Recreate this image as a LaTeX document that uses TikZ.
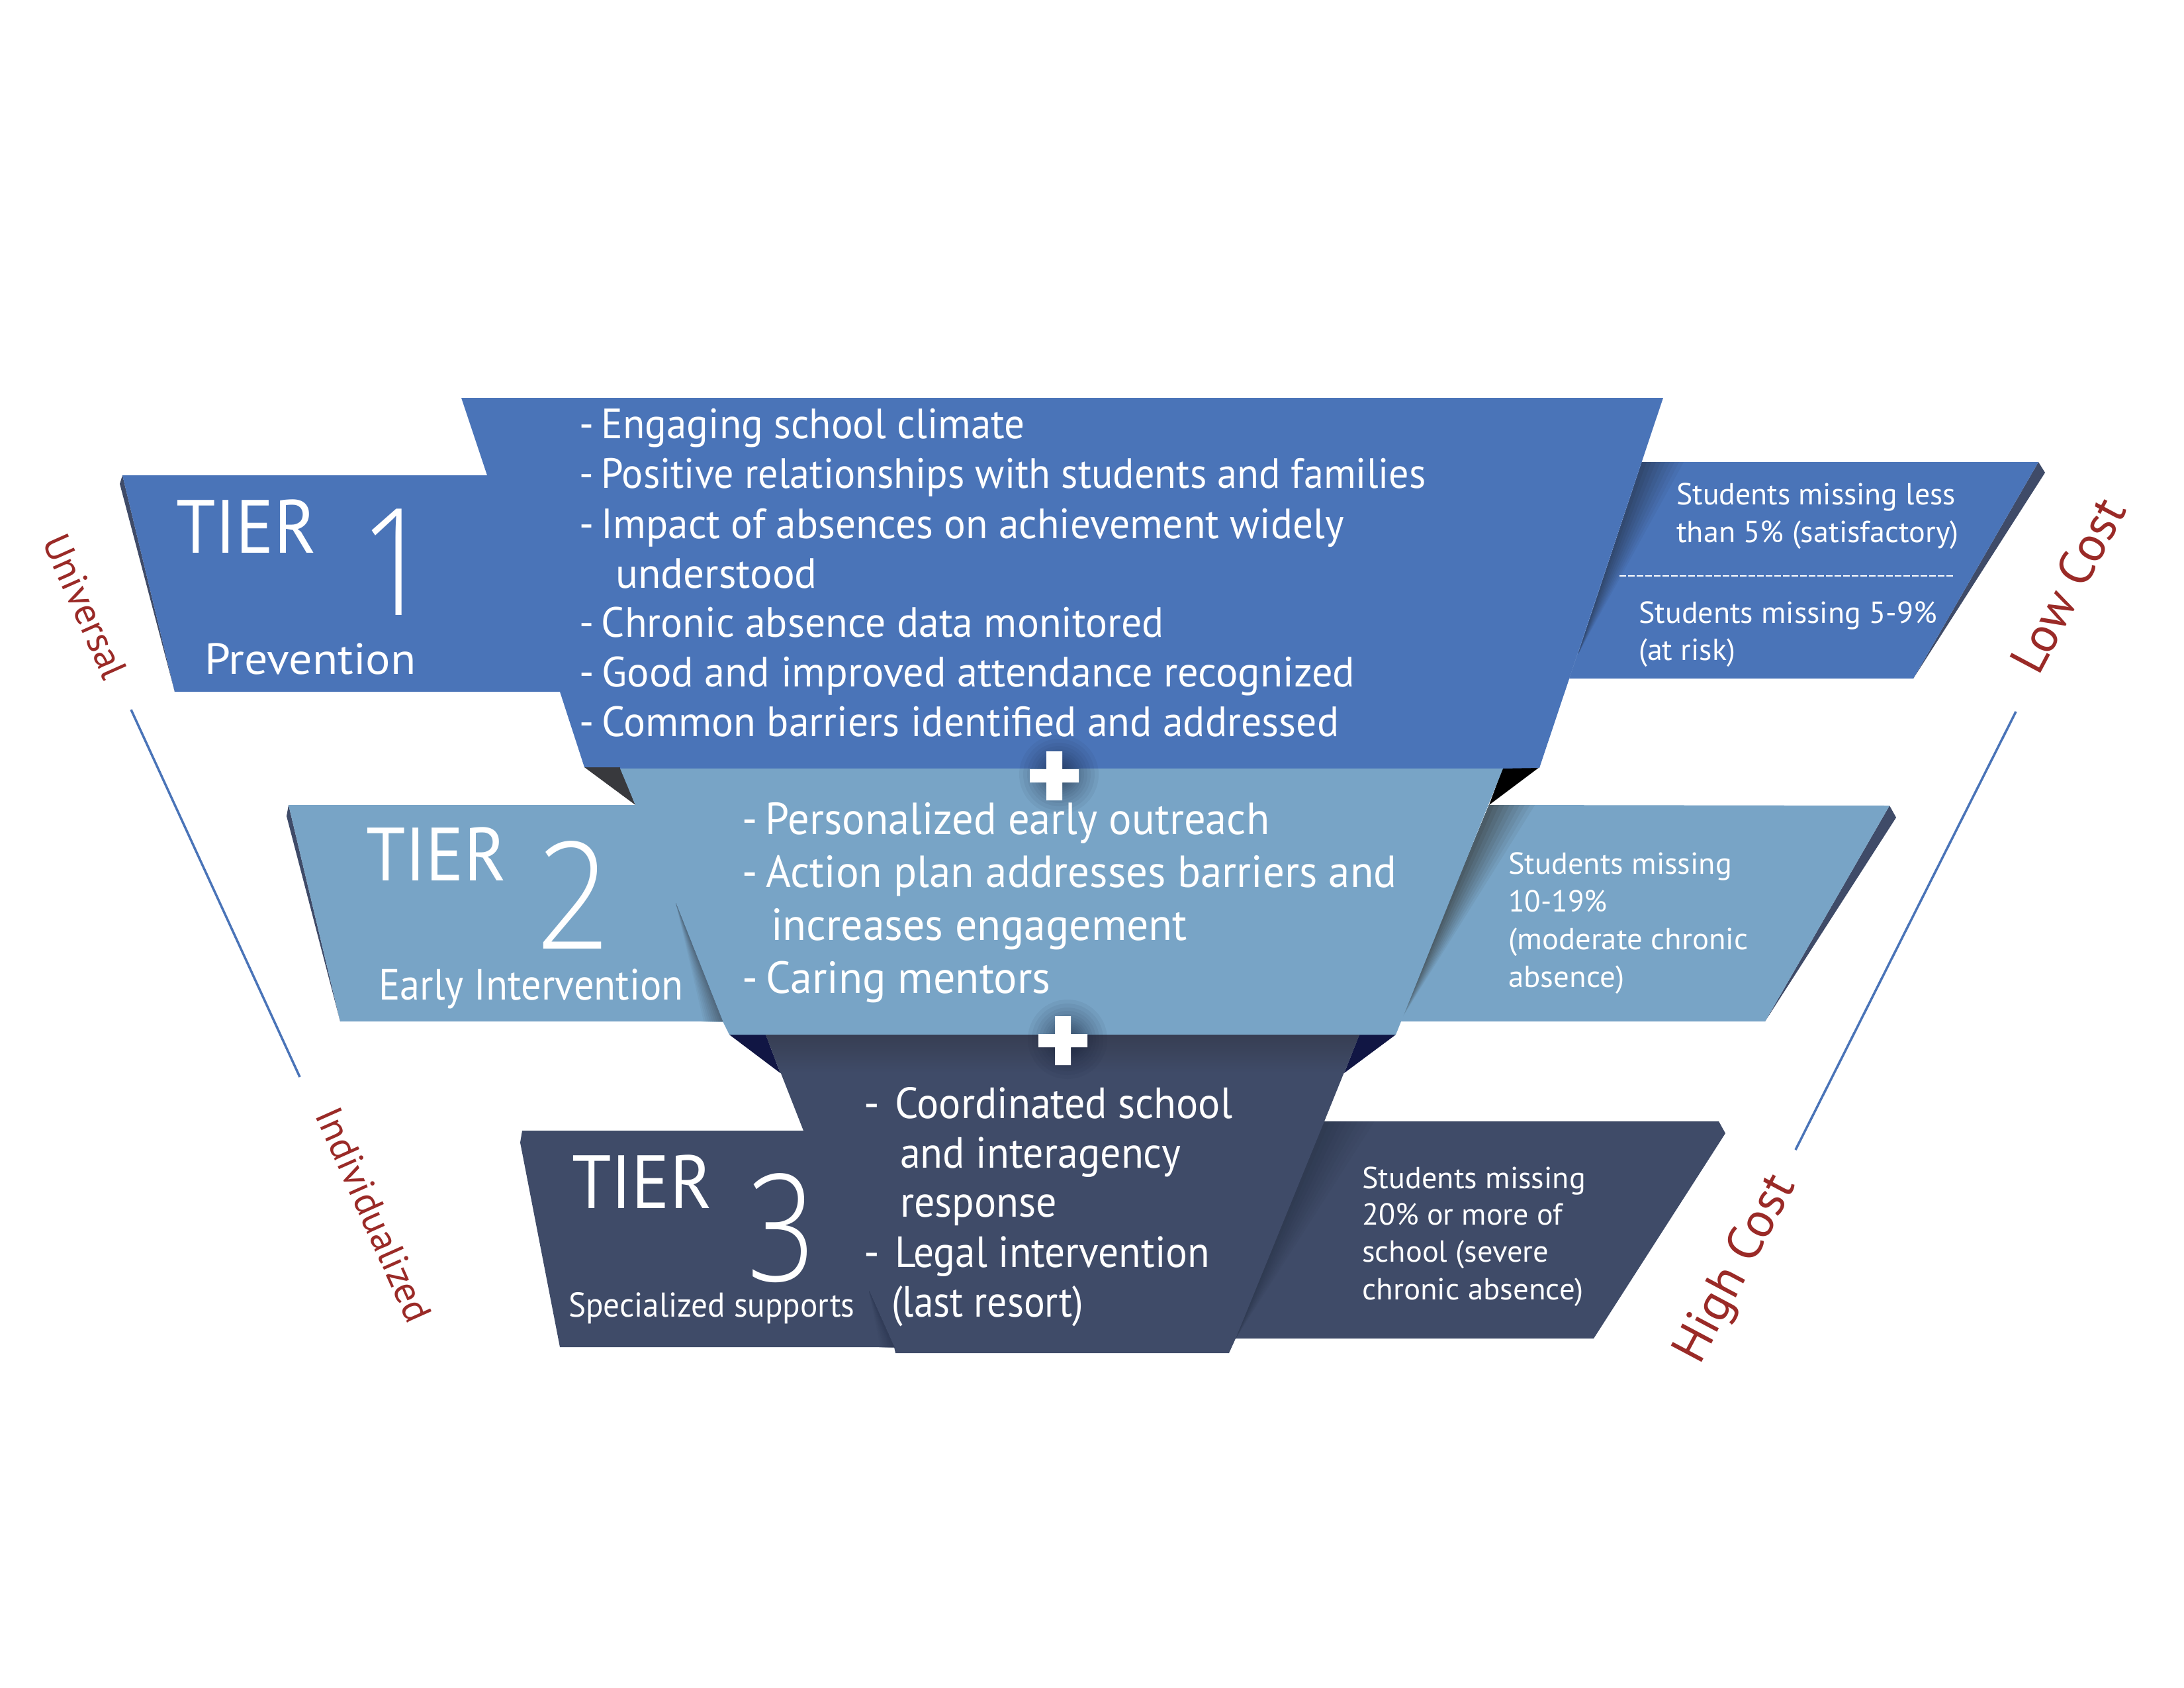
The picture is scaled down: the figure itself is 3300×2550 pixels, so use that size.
\documentclass[tikz,border=0pt]{standalone}
\usepackage{fontspec}
\setmainfont{PT Sans}
\newfontfamily\numfont{Open Sans}[UprightFont=* Light]
\usetikzlibrary{calc}
\definecolor{tone}{HTML}{4A74B8}
\definecolor{ttwo}{HTML}{78A4C6}
\definecolor{tthree}{HTML}{3F4B68}
\definecolor{capred}{HTML}{9A2A27}
\definecolor{navy}{HTML}{111644}
\definecolor{grit}{HTML}{38393D}
\definecolor{shadea}{HTML}{2F4468}
\definecolor{shadeb}{HTML}{46545C}
\definecolor{shadec}{HTML}{4E6478}
\definecolor{shaded}{HTML}{2E3950}
\definecolor{shadee}{HTML}{2F3A55}
\definecolor{plusdark}{HTML}{18223C}
\definecolor{topdark}{HTML}{373E53}
\newcommand\fsz[2]{\fontsize{#1}{#2}\selectfont}
\newcommand\sx[2]{\scalebox{#1}[1]{#2}}
\newcommand\dsh{- \hspace{-5pt}}
\newcommand\fan[5]{\foreach \t in {100,90,...,10}{\fill[#5!\t!#4] (#1) -- (#2) -- ($(#2)!{0.01*\t}!(#3)$) -- cycle;}}
\newcommand\plussign[2]{% cx cy
  \begin{scope}[shift={(#1,#2)}]
  \foreach \r in {60,54,48,43,38,34,30,27,24,21,18,15,12}{\fill[plusdark,opacity=0.06] (7,-2) circle (\r pt);}
  \fill[white] (-12,-37) -- (12,-37) -- (12,-10) -- (37,-10) -- (37,10) -- (12,10) -- (12,37) -- (-12,37) -- (-12,10) -- (-37,10) -- (-37,-10) -- (-12,-10) -- cycle;
  \end{scope}}
\tikzset{
  txt/.style={anchor=base west,inner sep=0pt,text=white},
  bodyone/.style={txt,font=\fsz{64}{72}},
  bodytwo/.style={txt,font=\fsz{68}{76}},
  bodythree/.style={txt,font=\fsz{66}{74}},
  side/.style={txt,font=\fsz{46}{56}},
  tierword/.style={txt,font=\fsz{114}{120}},
  tiernum/.style={anchor=base,inner sep=0pt,text=white,font=\numfont\fsz{225}{240}},
  sublabel/.style={txt,font=\fsz{66}{76}},
  sublabelsm/.style={txt,font=\fsz{52}{60}},
  caption/.style={anchor=center,inner sep=0pt,text=capred,font=\fsz{58}{70}},
  capbig/.style={anchor=center,inner sep=0pt,text=capred,font=\fsz{75}{90}},
  rule/.style={draw=tone,line width=3.5pt},
}
\begin{document}
\begin{tikzpicture}[x=1pt,y=-1pt]
\useasboundingbox (0,0) rectangle (3300,2550);
\fill[white] (0,0) rectangle (3300,2550);

% Tier 1 side box
\fill[tthree] (3080,698) -- (3090,714) -- (2891,1025) -- cycle;
\fill[tone] (2481,698) -- (3080,698) -- (2891,1025) -- (2371,1025) -- cycle;
\fan{2385,987}{2481,698}{2551,698}{shadea}{tone}
% Tier 1 main
\fill[tthree] (185,718) -- (181,731) -- (264,1045) -- cycle;
\fill[grit] (883,1159) -- (937,1159) -- (960,1216) -- cycle;
\fill[black] (2326,1159) -- (2271,1159) -- (2250,1216) -- cycle;
\fill[tone] (697,601) -- (2513,601) -- (2326,1160) -- (2271,1161) -- (937,1161) -- (937,1159) -- (883,1159) -- (846,1045) -- (264,1045) -- (185,718) -- (736,718) -- cycle;

% Tier 2 side box
\fill[tthree] (2855,1217) -- (2865,1235) -- (2667,1543) -- cycle;
\fill[ttwo] (2250,1216) -- (2855,1217) -- (2667,1543) -- (2115,1543) -- cycle;
\fan{2115,1543}{2250,1216}{2327,1216}{shadeb}{ttwo}
% Tier 2 main
\fill[tthree] (436,1216) -- (433,1233) -- (514,1543) -- cycle;
\fill[navy] (1102,1563) -- (1157,1563) -- (1179,1621) -- cycle;
\fill[navy] (2109,1563) -- (2054,1563) -- (2031,1621) -- cycle;
\fill[ttwo] (436,1216) -- (960,1216) -- (937,1161) -- (2271,1161) -- (2109,1563) -- (1102,1563) -- (1092,1543) -- (514,1543) -- cycle;
\fan{1021,1364}{1092,1543}{1060,1543}{shadec}{ttwo}

% Tier 3 side box
\fill[tthree] (2001,1694) -- (2597,1694) -- (2607,1712) -- (2408,2022) -- (1867,2022) -- cycle;
\fan{1867,2022}{2001,1694}{2085,1694}{shaded}{tthree}
% Tier 3 main
\fill[tthree] (1157,1563) -- (2054,1563) -- (2001,1694) -- (1867,2022) -- (1857,2044) -- (1353,2044) -- (1351,2035) -- (846,2035) -- (786,1726) -- (789,1708) -- (1214,1708) -- cycle;
\shade[top color=topdark,bottom color=tthree] (1157,1563) -- (2054,1563) -- (2031,1621) -- (1179,1621) -- cycle;
\fan{1313,1950}{1351,2035}{1328,2035}{shadee}{tthree}

\plussign{1593}{1172}
\plussign{1606}{1572}

\begin{scope}[shift={(0,2)}]
% Tier 1 text
\node[tierword] (t1w) at (266,833) {\sx{0.94}{TIER}};
\node[tiernum] (t1n) at (598,927) {\sx{0.85}{1}};
\node[sublabel] (t1s) at (309,1016) {\sx{1.06}{Prevention}};
\node[bodyone] (a1) at (875,660) {\sx{0.954}{\dsh Engaging school climate}};
\node[bodyone] (a2) at (875,735) {\sx{0.941}{\dsh Positive relationships with students and families}};
\node[bodyone] (a3) at (875,811) {\sx{0.958}{\dsh Impact of absences on achievement widely}};
\node[bodyone] (a4) at (930,886) {\sx{0.985}{understood}};
\node[bodyone] (a5) at (875,960) {\sx{0.963}{\dsh Chronic absence data monitored}};
\node[bodyone] (a6) at (875,1035) {\sx{0.975}{\dsh Good and improved attendance recognized}};
\node[bodyone] (a7) at (875,1110) {\sx{0.965}{\dsh Common barriers identified and addressed}};
\node[side] (s1) at (2533,760) {\sx{0.995}{Students missing less}};
\node[side] (s2) at (2533,817) {\sx{1.005}{than 5\% (satisfactory)}};
\coordinate (d1) at (2447,868); \coordinate (d2) at (2954,868);
\draw[white,line width=2.5pt,dash pattern=on 10pt off 3pt] (d1) -- (d2);
\node[side] (s3) at (2476,939) {Students missing 5-9\%};
\node[side] (s4) at (2476,995) {(at risk)};

% Tier 2 text
\node[tierword] (t2w) at (553,1328) {\sx{0.94}{TIER}};
\node[tiernum] (t2n) at (866,1431) {\sx{0.87}{2}};
\node[sublabel] (t2s) at (572,1508) {\sx{0.915}{Early Intervention}};
\node[bodytwo] (b1) at (1121,1258) {\sx{0.949}{\dsh Personalized early outreach}};
\node[bodytwo] (b2) at (1121,1338) {\sx{0.955}{\dsh Action plan addresses barriers and}};
\node[bodytwo] (b3) at (1165,1418) {\sx{0.967}{increases engagement}};
\node[bodytwo] (b4) at (1121,1498) {\sx{0.972}{\dsh Caring mentors}};
\node[side] (u1) at (2279,1318) {\sx{1.005}{Students missing}};
\node[side] (u2) at (2279,1375) {\sx{0.98}{10-19\%}};
\node[side] (u3) at (2279,1432) {\sx{1.015}{(moderate chronic}};
\node[side] (u4) at (2279,1489) {\sx{1.02}{absence)}};

% Tier 3 text
\node[tierword] (t3w) at (864,1823) {\sx{0.94}{TIER}};
\node[tiernum] (t3n) at (1181,1933) {\sx{0.8}{3}};
\node[sublabelsm] (t3s) at (859,1987) {\sx{0.945}{Specialized supports}};
\node[bodythree] (c1) at (1305,1687) {-};
\node[bodythree] (c1b) at (1352,1687) {\sx{0.94}{Coordinated school}};
\node[bodythree] (c2) at (1360,1762) {\sx{0.94}{and interagency}};
\node[bodythree] (c3) at (1360,1836) {\sx{0.94}{response}};
\node[bodythree] (c4) at (1305,1912) {-};
\node[bodythree] (c4b) at (1352,1912) {\sx{0.93}{Legal intervention}};
\node[bodythree] (c5) at (1347,1987) {\sx{0.90}{(last resort)}};
\node[side] (v1) at (2058,1793) {\sx{1.005}{Students missing}};
\node[side] (v2) at (2058,1848) {20\% or more of};
\node[side] (v3) at (2058,1904) {\sx{1.01}{school (severe}};
\node[side] (v4) at (2058,1961) {\sx{1.02}{chronic absence)}};
\end{scope}

% Side axes
\node[caption,rotate=-66] (uni) at (129,916) {Universal};
\node[caption,rotate=-66] (ind) at (565,1835) {Individualized};
\node[capbig,rotate=62] (low) at (3124,884) {Low Cost};
\node[capbig,rotate=62] (high) at (2624,1918) {High Cost};
\coordinate (la) at (198,1072); \coordinate (lb) at (453,1627);
\coordinate (ra) at (3046,1075); \coordinate (rb) at (2713,1737);
\draw[rule] (la) -- (lb);
\draw[rule] (ra) -- (rb);
\end{tikzpicture}
\end{document}
